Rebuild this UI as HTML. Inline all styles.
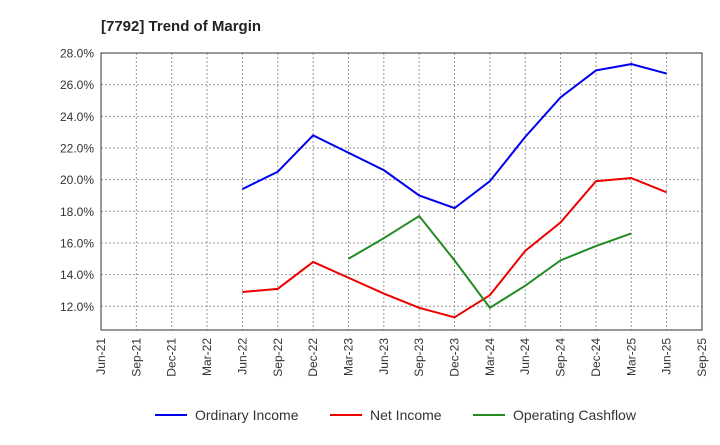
<!DOCTYPE html>
<html><head><meta charset="utf-8"><style>
body{margin:0;background:#fff;font-family:"Liberation Sans",sans-serif;}
</style></head><body>
<svg width="720" height="440" xmlns="http://www.w3.org/2000/svg" font-family="Liberation Sans, sans-serif">
<text x="101" y="31" font-size="15" font-weight="bold" fill="#222">[7792]  Trend of Margin</text>
<g id="grid"></g>
<g id="series"></g>
<g id="legend"></g>
</svg>
<script>
const categories=["Jun-21","Sep-21","Dec-21","Mar-22","Jun-22","Sep-22","Dec-22","Mar-23","Jun-23","Sep-23","Dec-23","Mar-24","Jun-24","Sep-24","Dec-24","Mar-25","Jun-25","Sep-25"];
const yTicks=[12,14,16,18,20,22,24,26,28];
const ordinaryIncome=[null,null,null,null,19.4,20.5,22.8,21.7,20.6,19.0,18.2,19.9,22.7,25.2,26.9,27.3,26.7,null];
const netIncome=[null,null,null,null,12.9,13.1,14.8,13.8,12.8,11.9,11.3,12.7,15.5,17.3,19.9,20.1,19.2,null];
const operatingCashflow=[null,null,null,null,null,null,null,15.0,16.3,17.7,14.9,11.9,13.3,14.9,15.8,16.6,null,null];
const L=101,R=702,T=53,B=330,yMin=10.5,yMax=28;
const NS="http://www.w3.org/2000/svg";
const xs=i=>L+(R-L)*i/(categories.length-1);
const ys=v=>B-(v-yMin)/(yMax-yMin)*(B-T);
function mk(tag,attrs,parent){const e=document.createElementNS(NS,tag);for(const k in attrs)e.setAttribute(k,attrs[k]);parent.appendChild(e);return e;}
const g=document.getElementById('grid');
categories.forEach((c,i)=>{
 const x=xs(i);
 const l=mk('line',{x1:x,x2:x,y1:T,y2:B,stroke:'#999','stroke-dasharray':'2,2','stroke-width':1},g);
 
 
 const t=mk('text',{x:0,y:0,'font-size':12,fill:'#333','text-anchor':'end',transform:`translate(${x+4},338) rotate(-90)`},g);
 t.textContent=c;
 
 
});
yTicks.forEach(v=>{
 const y=ys(v);
 const l=mk('line',{x1:L,x2:R,y1:y,y2:y,stroke:'#999','stroke-dasharray':'2,2','stroke-width':1},g);
 
 
 const t=mk('text',{x:L-7,y:y+4.5,'font-size':12,fill:'#333','text-anchor':'end'},g);
 t.textContent=v.toFixed(1)+'%';
 
 
});
const frame=mk('rect',{x:L,y:T,width:R-L,height:B-T,fill:'none',stroke:'#333','stroke-width':1},g);


const s=document.getElementById('series');
function line(data,color,name){
 let d='';let started=false;
 data.forEach((v,i)=>{if(v==null)return;d+=(started?'L':'M')+xs(i)+','+ys(v);started=true;});
 const p=mk('path',{d:d,fill:'none',stroke:color,'stroke-width':2},s);
 
 
}
line(ordinaryIncome,'#0000ee','ordinary-income-line');
line(netIncome,'#ee0000','net-income-line');
line(operatingCashflow,'#228b22','operating-cashflow-line');
const lg=document.getElementById('legend');
[["Ordinary Income",'#0000ee',155],["Net Income",'#ee0000',330],["Operating Cashflow",'#228b22',473]].forEach(([n,c,x])=>{
 const gg=mk('g',{},lg);
 
 
 mk('line',{x1:x,x2:x+32,y1:415,y2:415,stroke:c,'stroke-width':2},gg);
 const t=mk('text',{x:x+40,y:420,'font-size':14,fill:'#333'},gg);
 t.textContent=n;
});
</script>
</body></html>
